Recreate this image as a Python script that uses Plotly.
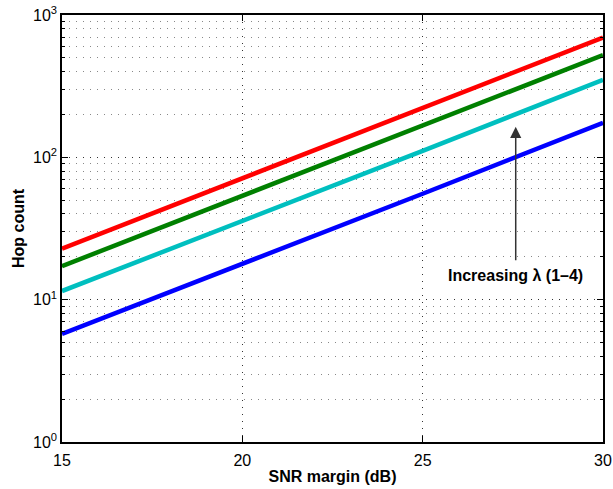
import plotly.graph_objects as go
import math

snr_db = [15, 20, 25, 30]
hop_l1 = [5.75, 17.8, 55.5, 175]
hop_l2 = [11.5, 35.5, 111, 350]
hop_l3 = [17.2, 53.5, 166, 522]
hop_l4 = [22.8, 71, 222, 695]
series_colors = ["#0000FF", "#00BFBF", "#008000", "#FF0000"]
x_ticks = [15, 20, 25, 30]
y_ticks = [1, 10, 100, 1000]
y_ticktext = ["10<sup>0</sup>", "10<sup>1</sup>", "10<sup>2</sup>", "10<sup>3</sup>"]

FONT = "Liberation Sans, Arial, Helvetica, sans-serif"

fig = go.Figure()
for vals, col in zip([hop_l1, hop_l2, hop_l3, hop_l4], series_colors):
    fig.add_trace(go.Scatter(x=snr_db, y=vals, mode="lines",
                             line=dict(color=col, width=4.5), showlegend=False))

# arrow
arrow_x = 27.58
fig.add_annotation(x=arrow_x, y=math.log10(164), ax=arrow_x, ay=math.log10(18.5),
                   xref="x", yref="y", axref="x", ayref="y",
                   showarrow=True, arrowhead=2, arrowsize=1.5, arrowwidth=1.5,
                   arrowcolor="#333333", text="")
fig.add_annotation(x=arrow_x, y=math.log10(14.8), xref="x", yref="y",
                   text="<b>Increasing λ (1–4)</b>", showarrow=False,
                   font=dict(family=FONT, size=16, color="black"))

fig.update_layout(
    width=613, height=489,
    margin=dict(l=62, r=10, t=15, b=47),
    plot_bgcolor="white", paper_bgcolor="white",
    font=dict(family=FONT, size=16, color="black"),
)
fig.update_xaxes(
    range=[15, 30], tickvals=x_ticks, ticks="inside", ticklen=6, tickcolor="black",
    showline=True, linecolor="black", linewidth=1.5, mirror="allticks",
    showgrid=True, gridcolor="#333333", griddash="1px,6px", gridwidth=1,
    zeroline=False, ticklabelstandoff=3, automargin=False,
    title=dict(text="<b>SNR margin (dB)</b>", font=dict(size=16), standoff=3),
    tickfont=dict(size=16),
)
fig.update_yaxes(
    type="log", range=[0, 3], tickvals=y_ticks, ticktext=y_ticktext,
    ticks="inside", ticklen=6, tickcolor="black",
    showline=True, linecolor="black", linewidth=1.5, mirror="allticks",
    showgrid=True, gridcolor="#333333", griddash="1px,6px", gridwidth=1,
    zeroline=False, automargin=False,
    minor=dict(ticks="inside", ticklen=3, tickcolor="black", showgrid=True,
               gridcolor="#888888", griddash="1px,6px", gridwidth=1,
               tickvals=[m * 10**d for d in range(3) for m in range(2, 10)]),
    title=dict(text="<b>Hop count</b>", font=dict(size=16), standoff=4),
    tickfont=dict(size=16),
)

fig.write_html("out.html")
